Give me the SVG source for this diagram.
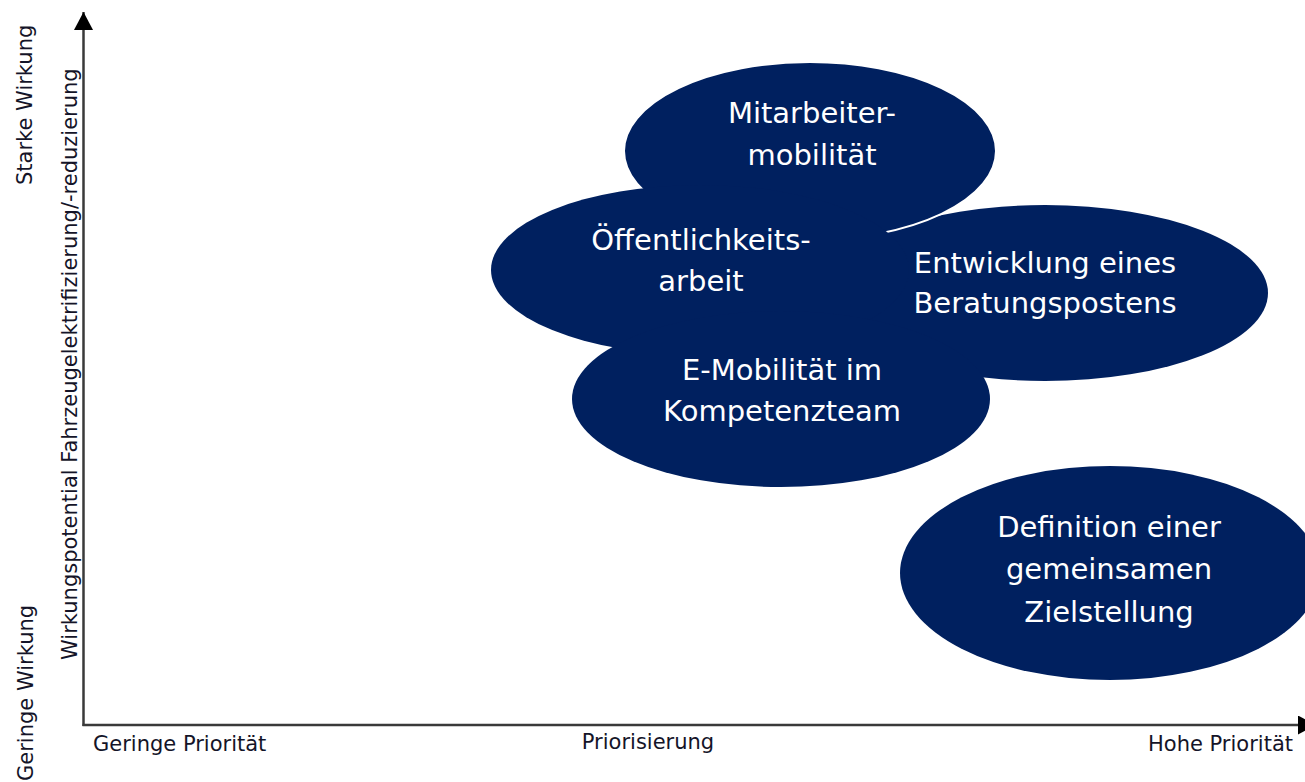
<svg xmlns="http://www.w3.org/2000/svg" width="1305" height="782" viewBox="0 0 1305 782">
<style>
.bubble{fill:#00205F}
.sep{fill:#00205F;stroke:#FFFFFF;stroke-width:2}
.lbl{font-family:"DejaVu Sans",Verdana,sans-serif;font-size:29px;fill:#FFFFFF;text-anchor:middle}
.ax{font-family:"DejaVu Sans",Verdana,sans-serif;font-size:21px;fill:#141428}
.axis{stroke:#3a3a3a;stroke-width:2.5;fill:none}
</style>
<defs>
<marker id="arr" markerUnits="userSpaceOnUse" markerWidth="19" markerHeight="20" refX="18" refY="9.5" orient="auto">
<path d="M0,0 L18,9.5 L0,19 z" fill="#000"/>
</marker>
</defs>
<rect width="1305" height="782" fill="#FFFFFF"/>
<g id="axes">
<line class="axis" x1="83.5" y1="726" x2="83.5" y2="12" marker-end="url(#arr)"/>
<line class="axis" x1="82.5" y1="725" x2="1316" y2="725" marker-end="url(#arr)"/>
</g>
<g id="axis-labels">
<text class="ax" x="93" y="751">Geringe Priorität</text>
<text class="ax" x="648" y="749" text-anchor="middle">Priorisierung</text>
<text class="ax" x="1293" y="751" text-anchor="end">Hohe Priorität</text>
<text class="ax" transform="translate(32,185) rotate(-90)">Starke Wirkung</text>
<text class="ax" transform="translate(33,781) rotate(-90)">Geringe Wirkung</text>
<text class="ax" transform="translate(77,660) rotate(-90)">Wirkungspotential Fahrzeugelektrifizierung/-reduzierung</text>
</g>
<g id="node-beratung">
<ellipse class="bubble" cx="1045" cy="293" rx="223" ry="88"/>
<text class="lbl" x="1045" y="273">Entwicklung eines</text>
<text class="lbl" x="1045" y="313">Beratungspostens</text>
</g>
<g id="node-mitarbeiter">
<ellipse class="sep" cx="810" cy="151" rx="186" ry="89"/>
<text class="lbl" x="812" y="123">Mitarbeiter-</text>
<text class="lbl" x="812" y="165">mobilität</text>
</g>
<g id="node-oeffentlichkeit">
<ellipse class="bubble" cx="700" cy="270" rx="209" ry="85"/>
<text class="lbl" x="701" y="250">Öffentlichkeits-</text>
<text class="lbl" x="701" y="291">arbeit</text>
</g>
<g id="node-emobilitaet">
<ellipse class="bubble" cx="781" cy="399" rx="209" ry="88"/>
<text class="lbl" x="782" y="380">E-Mobilität im</text>
<text class="lbl" x="782" y="421">Kompetenzteam</text>
</g>
<g id="node-definition">
<ellipse class="bubble" cx="1110" cy="573" rx="210" ry="107"/>
<text class="lbl" x="1109" y="537">Definition einer</text>
<text class="lbl" x="1109" y="579">gemeinsamen</text>
<text class="lbl" x="1109" y="622">Zielstellung</text>
</g>
</svg>
